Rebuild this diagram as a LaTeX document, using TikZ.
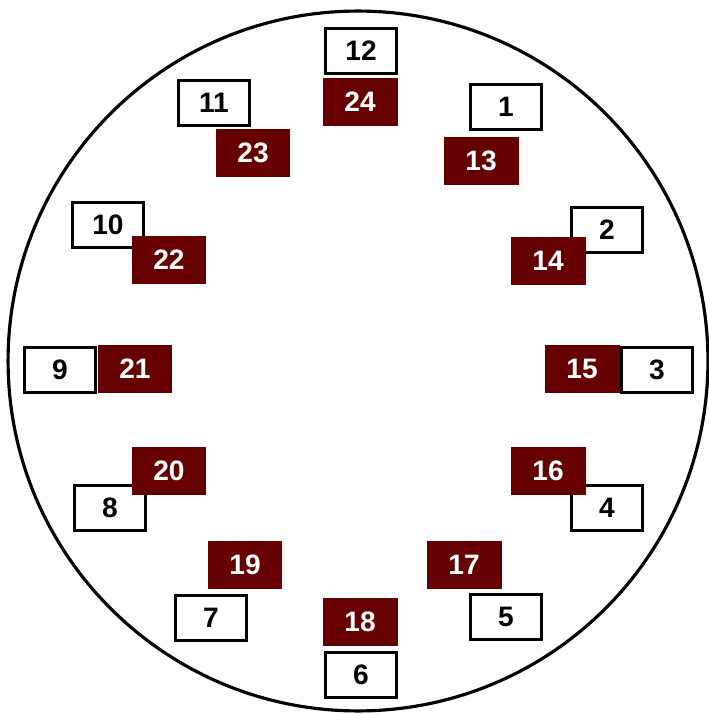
\documentclass[tikz,border=0pt]{standalone}
\usepackage{fontspec}
\setmainfont{Liberation Sans}
\definecolor{hourred}{RGB}{102,0,0}

\begin{document}
\begin{tikzpicture}[
    x=0.02cm, y=-0.02cm,
    every node/.style={font=\fontsize{16}{18}\selectfont\bfseries},
    dayhour/.style={rectangle, draw=black, line width=1.5pt, fill=white, minimum width=1.42cm, minimum height=0.9cm, inner sep=0pt},
    nighthour/.style={rectangle, fill=hourred, text=white, minimum width=1.5cm, minimum height=0.97cm, inner sep=0pt},
]
\useasboundingbox (0,0) rectangle (708,715);

% === Clock face ===
\node[circle, draw, line width=1.8pt, minimum size=14cm, inner sep=0pt] (face) at (358,361) {};

% === Outer ring: 1 to 12 ===
\node[dayhour] (h12) at (361,51) {12};
\node[dayhour] (h1) at (506,107) {1};
\node[dayhour] (h2) at (607,230) {2};
\node[dayhour] (h3) at (657,370) {3};
\node[dayhour] (h4) at (607,508) {4};
\node[dayhour] (h5) at (506,617) {5};
\node[dayhour] (h6) at (361,675) {6};
\node[dayhour] (h7) at (211,618) {7};
\node[dayhour] (h8) at (110,508) {8};
\node[dayhour] (h9) at (60,370) {9};
\node[dayhour] (h10) at (108,225) {10};
\node[dayhour] (h11) at (214,103) {11};

% === Inner ring: 13 to 24 ===
\node[nighthour] (h13) at (481,161) {13};
\node[nighthour] (h14) at (548,261) {14};
\node[nighthour] (h15) at (582,369) {15};
\node[nighthour] (h16) at (548,471) {16};
\node[nighthour] (h17) at (464,565) {17};
\node[nighthour] (h18) at (360,622) {18};
\node[nighthour] (h19) at (245,565) {19};
\node[nighthour] (h20) at (169,471) {20};
\node[nighthour] (h21) at (135,369) {21};
\node[nighthour] (h22) at (169,260) {22};
\node[nighthour] (h23) at (253,153) {23};
\node[nighthour] (h24) at (360,102) {24};

\end{tikzpicture}
\end{document}
